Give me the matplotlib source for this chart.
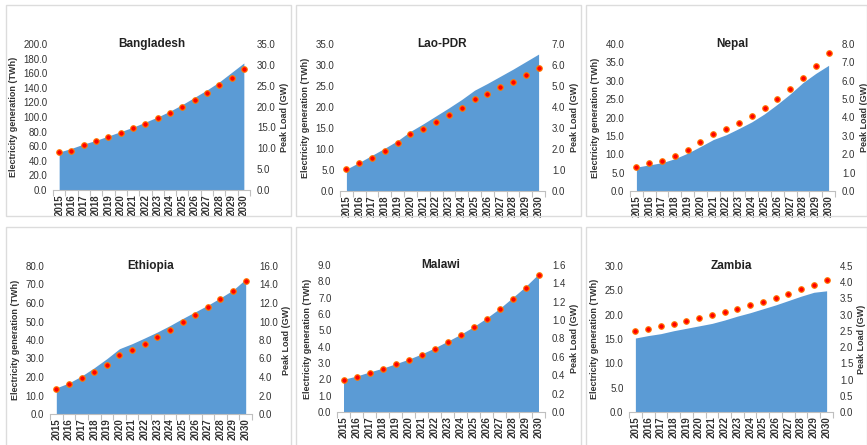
import matplotlib
matplotlib.use("Agg")
import matplotlib.pyplot as plt
from matplotlib.patches import Rectangle
import numpy as np

plt.rcParams['font.family'] = ['Liberation Sans Narrow', 'Liberation Sans', 'DejaVu Sans']

years = [str(y) for y in range(2015, 2031)]

countries = ["Bangladesh", "Lao-PDR", "Nepal", "Ethiopia", "Malawi", "Zambia"]

bangladesh_gen = [52, 57, 63, 68, 74, 80, 86, 93, 100, 108, 117, 127, 137, 148, 161, 174]
bangladesh_peak = [9.0, 9.4, 10.9, 11.8, 12.6, 13.7, 14.8, 15.9, 17.2, 18.5, 19.9, 21.6, 23.2, 25.1, 26.9, 29.0]

lao_gen = [5.2, 6.8, 8.5, 10.2, 12.0, 14.2, 16.0, 17.9, 19.8, 21.8, 24.0, 25.6, 27.3, 29.0, 30.8, 32.6]
lao_peak = [1.05, 1.34, 1.59, 1.89, 2.27, 2.72, 2.97, 3.28, 3.61, 3.95, 4.36, 4.63, 4.93, 5.20, 5.54, 5.85]

nepal_gen = [6.5, 7.1, 7.7, 8.8, 10.3, 12.1, 14.0, 15.3, 17.0, 18.8, 21.0, 23.6, 26.4, 29.5, 32.0, 34.2]
nepal_peak = [1.31, 1.51, 1.65, 1.89, 2.25, 2.65, 3.09, 3.39, 3.72, 4.10, 4.54, 5.01, 5.57, 6.15, 6.82, 7.53]

ethiopia_gen = [14.1, 16.8, 20.5, 25.0, 29.9, 35.3, 38.0, 41.1, 44.3, 47.8, 51.6, 55.2, 58.8, 62.8, 67.0, 72.9]
ethiopia_peak = [2.75, 3.22, 3.84, 4.53, 5.33, 6.34, 6.96, 7.57, 8.30, 9.13, 10.0, 10.72, 11.56, 12.43, 13.33, 14.35]

malawi_gen = [2.0, 2.2, 2.45, 2.68, 2.95, 3.23, 3.55, 3.92, 4.33, 4.75, 5.22, 5.75, 6.33, 7.0, 7.68, 8.45]
malawi_peak = [0.353, 0.385, 0.429, 0.473, 0.52, 0.571, 0.625, 0.691, 0.764, 0.836, 0.92, 1.011, 1.116, 1.233, 1.353, 1.495]

zambia_gen = [15.2, 15.7, 16.1, 16.7, 17.2, 17.7, 18.2, 18.9, 19.7, 20.4, 21.2, 22.0, 22.9, 23.8, 24.6, 24.9]
zambia_peak = [2.51, 2.57, 2.64, 2.72, 2.80, 2.89, 2.98, 3.08, 3.18, 3.29, 3.40, 3.52, 3.65, 3.78, 3.92, 4.08]

gen_series = [bangladesh_gen, lao_gen, nepal_gen, ethiopia_gen, malawi_gen, zambia_gen]
peak_series = [bangladesh_peak, lao_peak, nepal_peak, ethiopia_peak, malawi_peak, zambia_peak]
left_limits = [(200, 20), (35, 5), (40, 5), (80, 10), (9, 1), (30, 5)]
right_limits = [(35, 5), (7, 1), (8, 1), (16, 2), (1.6, 0.2), (4.5, 0.5)]

W, H = 867, 445
fig = plt.figure(figsize=(W / 100, H / 100), dpi=100)
fig.patch.set_facecolor('white')

# panel frames (pixel coords: x0, y0(top), x1, y1(bottom))
frames = [(6, 5, 291, 216), (296, 5, 581, 216), (586, 5, 867, 216),
          (6, 227, 291, 450), (296, 227, 581, 450), (586, 227, 867, 450)]
for (x0, y0, x1, y1) in frames:
    fig.add_artist(Rectangle((x0 / W, 1 - y1 / H), (x1 - x0) / W, (y1 - y0) / H,
                             transform=fig.transFigure, fill=False,
                             edgecolor='#dcdcdc', linewidth=1.0))

# axes boxes (pixel coords: left, top, right, bottom)
boxes = [(53, 44, 250, 190), (340, 44, 545, 191), (630, 44, 835, 191),
         (50, 266, 252, 414), (337, 265, 545, 412), (629, 266, 833, 412)]

x = np.arange(len(years))
blue = '#5b9bd5'
for i, name in enumerate(countries):
    l, t, r, b = boxes[i]
    ax = fig.add_axes([l / W, 1 - b / H, (r - l) / W, (b - t) / H])
    ax.fill_between(x, gen_series[i], 0, color=blue, linewidth=0)
    ax.set_xlim(-0.5, len(years) - 0.5)
    lmax, lstep = left_limits[i]
    ax.set_ylim(0, lmax)
    lt = np.arange(0, lmax + lstep / 2, lstep)
    ax.set_yticks(lt)
    ax.set_yticklabels([f"{v:.1f}" for v in lt])
    ax.set_xticks(x)
    ax.set_xticklabels(years, rotation=90, fontsize=7, fontweight='bold', color='#333333')
    ax.set_xticks(np.arange(-0.5, len(years), 1.0), minor=True)
    ax.tick_params(axis='x', which='major', length=0, pad=3)
    ax.tick_params(axis='x', which='minor', length=4, color='#bfbfbf', width=0.8)
    ax.tick_params(axis='y', length=0, labelsize=7, labelcolor='#333333', pad=4)
    for s in ['top', 'left', 'right']:
        ax.spines[s].set_visible(False)
    ax.spines['bottom'].set_color('#bfbfbf')
    ax.spines['bottom'].set_linewidth(0.8)
    ax.set_ylabel('Electricity generation (TWh)', fontsize=6.5, fontweight='bold',
                  color='#333333', labelpad=4)
    ax.text(0.5, 1.0, name, transform=ax.transAxes, ha='center', va='center',
            fontsize=8.5, fontweight='bold', color='#222222')

    ax2 = ax.twinx()
    rmax, rstep = right_limits[i]
    ax2.set_ylim(0, rmax)
    rt = np.arange(0, rmax + rstep / 2, rstep)
    ax2.set_yticks(rt)
    ax2.set_yticklabels([f"{v:.1f}" for v in rt])
    ax2.plot(x, peak_series[i], linestyle='none', marker='o', markersize=4,
             markerfacecolor='#ff0000', markeredgecolor='#ff7a00', markeredgewidth=0.8)
    ax2.tick_params(axis='y', length=0, labelsize=7, labelcolor='#333333', pad=5)
    for s in ['top', 'left', 'right', 'bottom']:
        ax2.spines[s].set_visible(False)
    ax2.set_ylabel('Peak Load (GW)', fontsize=6.5, fontweight='bold',
                   color='#333333', labelpad=3)

fig.savefig('out.png', dpi=100)
